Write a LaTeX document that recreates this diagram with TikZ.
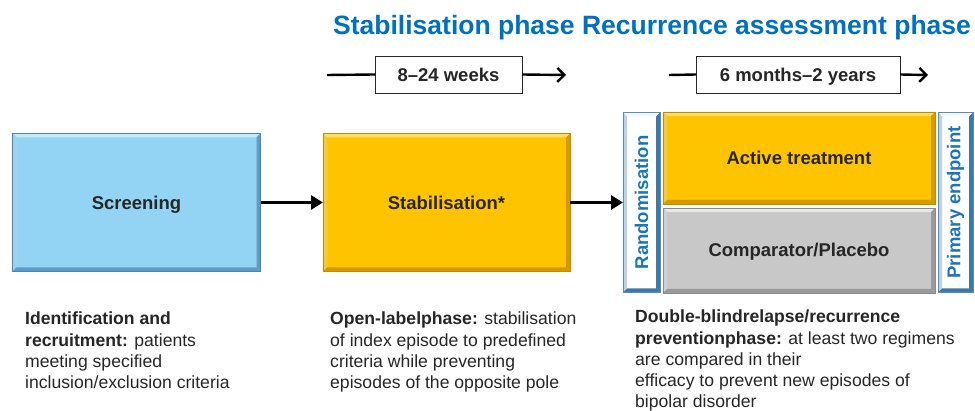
\documentclass[tikz,border=0pt]{standalone}
\usepackage{fontspec}
\setmainfont{Liberation Sans}
\usetikzlibrary{arrows.meta}
\definecolor{titleblue}{HTML}{0070C0}
\definecolor{vblue}{HTML}{1B75BC}
\definecolor{txt}{HTML}{262626}
\definecolor{skyfill}{HTML}{93D4F5}
\definecolor{skylight}{HTML}{C2E8FA}
\definecolor{skydark}{HTML}{5E9CC4}
\definecolor{skyedge}{HTML}{4A86B5}
\definecolor{goldfill}{HTML}{FFC400}
\definecolor{goldlight}{HTML}{FFDE66}
\definecolor{golddark}{HTML}{D49A00}
\definecolor{goldedge}{HTML}{C08C00}
\definecolor{greyfill}{HTML}{C8C8C8}
\definecolor{greylight}{HTML}{E8E8E8}
\definecolor{greydark}{HTML}{9A9A9A}
\definecolor{greyedge}{HTML}{8A8A8A}
\definecolor{sidelight}{HTML}{F4F8FC}
\definecolor{sidedark}{HTML}{3F78A8}
\definecolor{sideedge}{HTML}{5A8CB8}
\newcommand\bevelit[4]{%
  \fill[#2] (#1.north west) -- (#1.north east) -- ([shift={(-4,-4)}]#1.north east) -- ([shift={(4,-4)}]#1.north west) -- cycle;
  \fill[#2!70!#3] (#1.north west) -- ([shift={(4,-4)}]#1.north west) -- ([shift={(4,4)}]#1.south west) -- (#1.south west) -- cycle;
  \fill[#3] (#1.north east) -- (#1.south east) -- ([shift={(-4,4)}]#1.south east) -- ([shift={(-4,-4)}]#1.north east) -- cycle;
  \fill[#3] (#1.south west) -- (#1.south east) -- ([shift={(-4,4)}]#1.south east) -- ([shift={(4,4)}]#1.south west) -- cycle;
  \draw[#4, line width=0.8pt] (#1.north west) rectangle (#1.south east);
}
\begin{document}
\begin{tikzpicture}[x=1pt,y=1pt,
  bigbox/.style={inner sep=0pt, outer sep=0pt, font=\fontsize{18.5}{21}\selectfont\bfseries, text=txt},
  boxtext/.style={anchor=base, inner sep=0pt, font=\fontsize{18.5}{21}\selectfont\bfseries, text=txt},
  sidebox/.style={inner sep=0pt, outer sep=0pt, fill=white, minimum width=#1, minimum height=180pt},
  sidetext/.style={inner sep=0pt, rotate=90, font=\fontsize{18.5}{21}\selectfont\bfseries, text=vblue},
  tbox/.style={draw=txt, line width=0.9pt, fill=white, inner sep=0pt, outer sep=0pt, minimum height=37pt, font=\fontsize{18.5}{21}\selectfont\bfseries, text=txt},
  tline/.style={line width=2.4pt, draw=black},
  flow/.style={line width=3pt, draw=black, -{Triangle[length=12pt,width=14pt]}},
  body/.style={anchor=north west, inner sep=0pt, align=left, text=txt, font=\fontsize{17.6}{21.2}\selectfont}
]
\useasboundingbox (0,0) rectangle (975,-411);

% title
\node[anchor=base west, inner sep=0pt, text=titleblue, font=\fontsize{26.5}{30}\selectfont\bfseries] (title) at (333,-35) {Stabilisation phase Recurrence assessment phase};

% time arrows
\node[tbox, minimum width=147pt] (t1) at (448.5,-74.5) {};
\node[boxtext] (t1t) at ([yshift=-7pt]t1.center) {8–24 weeks};
\coordinate (t1s) at (327,-75);
\coordinate (t1e) at (566,-75);
\draw[tline] (t1s) -- (t1.west);
\draw[tline, -{Straight Barb[length=7pt,width=14pt]}] (t1.east) -- (t1e);

\node[tbox, minimum width=204pt] (t2) at (798,-74.5) {};
\node[boxtext] (t2t) at ([yshift=-7pt]t2.center) {6 months–2 years};
\coordinate (t2s) at (669,-75);
\coordinate (t2e) at (928,-75);
\draw[tline] (t2s) -- (t2.west);
\draw[tline, -{Straight Barb[length=7pt,width=14pt]}] (t2.east) -- (t2e);

% main boxes
\node[bigbox, fill=skyfill, minimum width=248pt, minimum height=138pt] (scr) at (136.5,-202.5) {};
\bevelit{scr}{skylight}{skydark}{skyedge}
\node[boxtext] (scrt) at ([yshift=-7pt]scr.center) {Screening};

\node[bigbox, fill=goldfill, minimum width=247pt, minimum height=138pt] (stab) at (446.5,-202.5) {};
\bevelit{stab}{goldlight}{golddark}{goldedge}
\node[boxtext] (stabt) at ([yshift=-7pt]stab.center) {Stabilisation*};

\node[sidebox=37pt] (rand) at (641.5,-202.5) {};
\bevelit{rand}{sidelight}{sidedark}{sideedge}
\node[sidetext] (randt) at (rand.center) {Randomisation};

\node[bigbox, fill=goldfill, minimum width=272pt, minimum height=92pt] (act) at (799,-158) {};
\bevelit{act}{goldlight}{golddark}{goldedge}
\node[boxtext] (actt) at ([yshift=-7pt]act.center) {Active treatment};

\node[bigbox, fill=greyfill, minimum width=272pt, minimum height=85pt] (comp) at (799,-250.5) {};
\bevelit{comp}{greylight}{greydark}{greyedge}
\node[boxtext] (compt) at ([yshift=-6.5pt]comp.center) {Comparator/Placebo};

\node[sidebox=35pt] (prim) at (955.5,-202.5) {};
\bevelit{prim}{sidelight}{sidedark}{sideedge}
\node[sidetext] (primt) at (prim.center) {Primary endpoint};

% flow arrows
\draw[flow] (scr.east) -- (stab.west);
\draw[flow] (stab.east) -- (rand.west);

% descriptions
\node[body] (d1) at (25,-312) {\textbf{Identification and}\\\textbf{recruitment:} patients\\meeting specified\\inclusion/exclusion criteria};
\node[body] (d2) at (330,-312) {\textbf{Open-labelphase:} stabilisation\\of index episode to predefined\\criteria while preventing\\episodes of the opposite pole};
\node[body] (d3) at (635,-310) {\textbf{Double-blindrelapse/recurrence}\\\textbf{preventionphase:} at least two regimens\\are compared in their\\efficacy to prevent new episodes of\\bipolar disorder};
\end{tikzpicture}
\end{document}
